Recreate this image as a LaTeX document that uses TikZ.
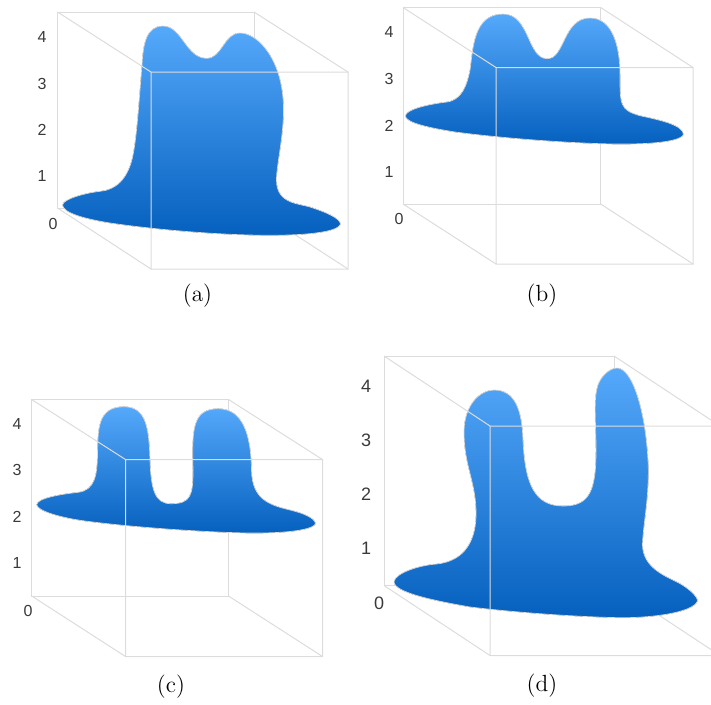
\documentclass[tikz,border=0pt]{standalone}
\usepackage{fontspec}
\newfontfamily\axisfont{Liberation Sans}
\definecolor{blobtop}{HTML}{55A9FB}
\definecolor{blobbot}{HTML}{0560BE}
\definecolor{edgegray}{HTML}{DCDCDC}
\definecolor{digitgray}{HTML}{3A3A3A}

\begin{document}
\begin{tikzpicture}[
  x=1pt, y=-1pt,
  edge/.style = {draw=edgegray, line width=1pt},
  blob/.style = {top color=blobtop, bottom color=blobbot, draw=edgegray, line width=0.7pt},
  tick/.style = {font=\axisfont\fontsize{16}{18}\selectfont, text=digitgray, inner sep=0pt},
  bigtick/.style = {tick, font=\axisfont\fontsize{18}{20}\selectfont},
  caption/.style = {font=\large, scale=1.95, inner sep=0pt}
]
\useasboundingbox (0,0) rectangle (711,704);

% panel a
\draw[edge] (57.5,12) rectangle (254,208);
\draw[edge] (254,12) -- (348,72) (254,208) -- (348,269) (57.5,208) -- (151,269);
\fill[blob] (62.5,205)
  .. controls (63,199) and (85,193) .. (100,191.3)
  .. controls (115,190) and (128,180) .. (133,155)
  .. controls (137,135) and (139,100) .. (142,65)
  .. controls (143,45) and (146,26) .. (163,26)
  .. controls (182,26) and (186,58.3) .. (206.7,58.3)
  .. controls (222,58.3) and (224,33) .. (240,33)
  .. controls (258,33) and (283,60) .. (283.5,108)
  .. controls (284,135) and (276.5,165) .. (276.5,180)
  .. controls (276.5,205) and (300,203) .. (313,208)
  .. controls (325,212) and (340,218) .. (340.5,224)
  .. controls (338,233) and (300,235.5) .. (266,235.3)
  .. controls (215,235) and (150,229) .. (110,223)
  .. controls (85,219) and (63,213) .. (62.5,205) -- cycle;
\draw[edge] (151,72) rectangle (348,269) (57.5,12) -- (151,72);
\foreach \n/\y in {4/37, 3/84, 2/130, 1/176}
  \node[tick] (a\n) at (42,\y) {\n};
\node[tick] (a0) at (53,224) {0};
\node[caption] (capa) at (197.5,296) {(a)};

% panel b
\draw[edge] (403,7.5) rectangle (600.7,204);
\draw[edge] (600.7,7.5) -- (693,67.5) (600.7,204) -- (693,264) (403,204) -- (496,264);
\fill[blob] (405.3,116)
  .. controls (406,109) and (430,104) .. (446.7,102)
  .. controls (462,100) and (467,85) .. (470,70)
  .. controls (473,50) and (473,14) .. (503,14)
  .. controls (530,14) and (527,58.7) .. (547.3,58.7)
  .. controls (565,58.7) and (563,18) .. (590,18)
  .. controls (612,18) and (620,45) .. (620,75)
  .. controls (620,105) and (620,110) .. (640,115.7)
  .. controls (660,120) and (683,125) .. (683.5,134.5)
  .. controls (680,143) and (640,144.5) .. (612,144)
  .. controls (565,143) and (500,138) .. (455,132)
  .. controls (430,128) and (406,123) .. (405.3,116) -- cycle;
\draw[edge] (496,67.5) rectangle (693,264) (403,7.5) -- (496,67.5);
\foreach \n/\y in {4/32, 3/79, 2/126, 1/172}
  \node[tick] (b\n) at (389,\y) {\n};
\node[tick] (b0) at (399,219) {0};
\node[caption] (capb) at (542,296) {(b)};

% panel c
\draw[edge] (31.7,399.5) rectangle (228.5,596);
\draw[edge] (228.5,399.5) -- (322.5,459.5) (228.5,596) -- (322.5,656.5) (31.7,596) -- (125.5,656.5);
\fill[blob] (36.7,504.7)
  .. controls (37,498) and (62,494) .. (78.3,492.3)
  .. controls (95,490) and (97,475) .. (97.5,455)
  .. controls (98,430) and (97,406.7) .. (124,406.7)
  .. controls (147,406.7) and (149,430) .. (150,460)
  .. controls (151,490) and (155,503.7) .. (171,503.7)
  .. controls (191,503.7) and (193,495) .. (193,470)
  .. controls (192,430) and (192,408.7) .. (218.3,408.7)
  .. controls (243,408.7) and (251,435) .. (251.5,470)
  .. controls (252,500) and (270,505) .. (290,510)
  .. controls (303,513) and (315,518) .. (315.5,523.7)
  .. controls (312,531.5) and (275,533.5) .. (246,533)
  .. controls (200,532) and (130,527) .. (85,521)
  .. controls (62,518) and (37,511) .. (36.7,504.7) -- cycle;
\draw[edge] (125.5,459.5) rectangle (322.5,656.5) (31.7,399.5) -- (125.5,459.5);
\foreach \n/\y in {4/424, 3/470, 2/517, 1/563}
  \node[tick] (c\n) at (17,\y) {\n};
\node[tick] (c0) at (28,611) {0};
\node[caption] (capc) at (171,687) {(c)};

% panel d, runs off the right side
\begin{scope}
  \clip (370,340) rectangle (711,670);
  \draw[edge] (384,356) rectangle (614,585.5);
  \draw[edge] (614,356) -- (720,426) (614,585.5) -- (720,655.5) (384,585.5) -- (490,655.5);
  \fill[blob] (394,581.7)
    .. controls (395,573) and (420,565) .. (436.7,564)
    .. controls (465,561) and (477,540) .. (476,510)
    .. controls (475,480) and (464,465) .. (464,432)
    .. controls (464,405) and (480,390) .. (494,390)
    .. controls (515,390) and (522,410) .. (523,440)
    .. controls (525,485) and (535,506) .. (563.3,506)
    .. controls (590,506) and (596,490) .. (596,450)
    .. controls (596,420) and (593,400) .. (598,385)
    .. controls (601,376) and (610,368) .. (617,368)
    .. controls (632,368) and (646,410) .. (648.3,466)
    .. controls (649,500) and (643,525) .. (642.5,545)
    .. controls (643,565) and (660,574) .. (675,581)
    .. controls (688,587) and (698,597) .. (697.5,601)
    .. controls (693,613) and (650,618) .. (620,617.7)
    .. controls (580,617) and (520,613) .. (470,607)
    .. controls (430,600) and (394,592) .. (394,581.7) -- cycle;
  \draw[edge] (490,426) rectangle (730,655.5) (384,356) -- (490,426);
\end{scope}
\foreach \n/\y in {4/386, 3/440, 2/494, 1/548}
  \node[bigtick] (d\n) at (366,\y) {\n};
\node[bigtick] (d0) at (379,603) {0};
\node[caption] (capd) at (542,686) {(d)};

\end{tikzpicture}
\end{document}
